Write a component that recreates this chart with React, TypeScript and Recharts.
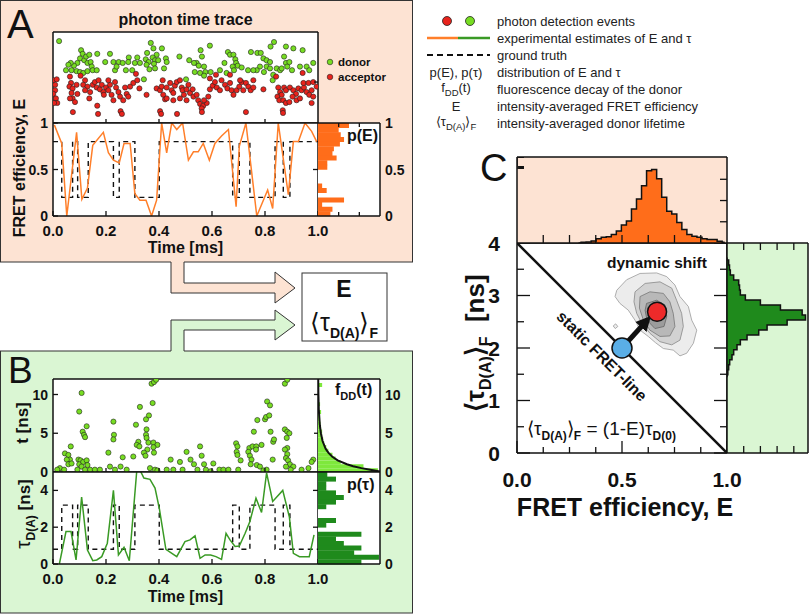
import React from 'react';
import { ComposedChart, XAxis, YAxis, Scatter, Line, Bar, Area, CartesianGrid } from 'recharts';

const FONT = "'Liberation Sans', Arial, Helvetica, sans-serif";
const INK = '#111111';
const PEACH = '#fde3d3';
const MINT = '#daf6d3';
const ORANGE = '#ff6d1a';
const ORANGE_LINE = '#ff7f2a';
const GREEN_DOT = '#77dd22';
const RED_DOT = '#e8231c';
const GREEN_LINE = '#3a9a25';
const DARK_GREEN = '#1f8a1c';
const LIGHT_GREEN = '#7ee83c';

// ---------------- Panel A: photon time trace [time ms, arbitrary spread 0-100]
const donorPhotons = [
  [0.023, 90], [0.106, 80], [0.112, 76], [0.102, 71], [0.118, 69], [0.125, 73], [0.137, 75], [0.13, 66], [0.142, 67], [0.146, 62],
  [0.092, 66], [0.079, 63], [0.067, 66], [0.058, 64], [0.049, 58], [0.07, 58], [0.089, 57], [0.102, 56], [0.114, 55], [0.13, 57],
  [0.167, 76], [0.15, 58], [0.165, 58], [0.197, 67], [0.215, 76], [0.228, 67], [0.248, 67], [0.234, 58], [0.24, 62], [0.263, 66],
  [0.286, 72], [0.284, 67], [0.275, 58], [0.299, 58], [0.309, 66], [0.318, 72], [0.328, 66], [0.355, 77], [0.35, 70], [0.361, 67],
  [0.369, 88], [0.379, 82], [0.391, 75], [0.376, 72], [0.353, 64], [0.364, 59], [0.385, 69], [0.397, 69], [0.381, 65], [0.411, 82],
  [0.426, 71], [0.429, 67], [0.419, 60], [0.343, 48], [0.385, 60],
  [0.477, 73], [0.514, 69], [0.557, 80], [0.592, 85], [0.562, 73], [0.542, 66], [0.532, 66], [0.55, 63], [0.57, 62], [0.575, 56],
  [0.595, 56], [0.555, 55], [0.535, 56], [0.57, 52], [0.502, 48], [0.66, 78], [0.668, 75], [0.681, 75], [0.688, 70], [0.691, 66],
  [0.697, 63], [0.678, 62], [0.647, 66], [0.63, 58], [0.655, 55], [0.683, 58], [0.712, 61], [0.736, 58],
  [0.747, 78], [0.771, 77], [0.784, 77], [0.794, 71], [0.806, 69], [0.819, 67], [0.834, 89], [0.821, 84], [0.781, 62], [0.769, 58],
  [0.756, 58], [0.806, 62], [0.819, 60], [0.844, 60], [0.796, 56], [0.831, 53], [0.829, 47], [0.857, 58], [0.879, 84], [0.907, 82],
  [0.942, 80], [0.872, 73], [0.879, 66], [0.884, 62], [0.902, 58], [0.892, 67], [0.932, 62], [0.957, 62], [0.982, 66], [0.967, 58],
  [0.863, 60],
];
const acceptorPhotons = [
  [0.001, 47], [0.014, 48], [0.008, 42], [0.008, 36], [0.001, 32], [0.011, 27], [0.016, 22], [0.004, 22], [0.064, 51], [0.068, 44],
  [0.062, 40], [0.074, 38], [0.07, 33], [0.074, 27], [0.083, 23], [0.064, 27], [0.092, 32], [0.089, 42], [0.104, 52], [0.121, 47],
  [0.114, 42], [0.13, 40], [0.121, 36], [0.14, 34], [0.137, 27], [0.15, 42], [0.158, 45], [0.165, 39], [0.172, 47], [0.177, 37],
  [0.184, 42], [0.19, 34], [0.2, 39], [0.192, 31], [0.209, 36], [0.215, 42], [0.209, 47], [0.221, 31], [0.228, 25], [0.238, 39],
  [0.234, 45], [0.247, 34], [0.253, 29], [0.265, 25], [0.272, 39], [0.278, 32], [0.291, 40], [0.284, 29], [0.303, 44], [0.318, 47],
  [0.326, 38], [0.255, 13], [0.167, 19], [0.353, 31], [0.313, 54],
  [0.391, 38], [0.404, 36], [0.41, 40], [0.416, 31], [0.423, 26], [0.429, 39], [0.442, 44], [0.448, 36], [0.454, 33], [0.46, 41],
  [0.467, 45], [0.479, 47], [0.486, 39], [0.489, 36], [0.494, 31], [0.504, 37], [0.511, 42], [0.517, 33], [0.527, 37], [0.53, 29],
  [0.542, 31], [0.548, 25], [0.555, 21], [0.567, 19], [0.58, 22], [0.586, 29], [0.592, 37], [0.603, 41], [0.611, 45], [0.618, 39],
  [0.63, 36], [0.636, 47], [0.649, 42], [0.658, 38], [0.668, 44], [0.674, 36], [0.681, 31], [0.693, 36], [0.703, 40], [0.712, 45],
  [0.718, 36], [0.728, 44], [0.737, 40], [0.746, 36], [0.756, 39], [0.794, 37], [0.404, 13], [0.561, 16], [0.57, 25], [0.504, 25],
  [0.479, 27], [0.454, 25], [0.429, 27], [0.414, 47], [0.592, 49], [0.615, 53], [0.668, 53], [0.706, 47], [0.756, 47],
  [0.842, 51], [0.85, 39], [0.857, 34], [0.847, 29], [0.854, 25], [0.863, 31], [0.872, 39], [0.879, 36], [0.869, 25], [0.879, 22],
  [0.892, 23], [0.867, 14], [0.894, 39], [0.907, 36], [0.917, 32], [0.926, 38], [0.938, 36], [0.947, 39], [0.957, 34], [0.967, 31],
  [0.976, 36], [0.982, 29], [0.976, 22], [0.945, 44], [0.964, 44], [0.995, 40], [0.919, 25], [0.932, 27], [0.904, 29], [0.942, 55],
  [0.982, 45],
  [0.075, 12], [0.17, 10], [0.26, 10], [0.408, 10], [0.468, 10], [0.562, 12], [0.728, 12], [0.868, 11],
];

// FRET efficiency estimate [time ms, E]
const fretTrace = [
  [0.005, 0.98], [0.033, 0.78], [0.052, 0.0], [0.089, 0.9], [0.109, 0.18], [0.13, 0.3], [0.15, 0.76], [0.19, 0.9], [0.209, 0.68],
  [0.228, 0.6], [0.25, 0.57], [0.268, 0.78], [0.291, 0.78], [0.309, 0.24], [0.328, 0.17], [0.351, 0.17], [0.372, 0.0], [0.391, 0.17],
  [0.41, 1.0], [0.429, 0.68], [0.448, 1.0], [0.467, 0.93], [0.489, 1.0], [0.511, 0.6], [0.53, 0.69], [0.548, 0.69], [0.567, 0.78],
  [0.59, 0.6], [0.611, 0.78], [0.636, 0.86], [0.662, 0.93], [0.691, 0.1], [0.703, 0.75], [0.728, 1.0], [0.769, 0.0], [0.81, 0.28],
  [0.829, 0.08], [0.85, 1.0], [0.888, 0.23], [0.907, 0.8], [0.926, 0.8], [0.951, 1.0], [0.976, 0.91], [0.995, 0.8],
];
// donor lifetime estimate [time ms, tau ns]
const lifetimeTrace = [
  [0.024, 0], [0.049, 1.76], [0.068, 1.76], [0.087, 0.22], [0.108, 3.64], [0.13, 0.76], [0.15, 0.18], [0.165, 0.22], [0.184, 0.4],
  [0.205, 1.13], [0.228, 4.0], [0.247, 0.49], [0.268, 0.91], [0.288, 0.18], [0.318, 5.4], [0.343, 4.67], [0.366, 4.6], [0.385, 4.13],
  [0.401, 3.04], [0.426, 0.8], [0.467, 0.4], [0.498, 1.22], [0.517, 1.31], [0.536, 1.53], [0.555, 0.31], [0.574, 0.49], [0.595, 0.49],
  [0.615, 0.4], [0.636, 0.25], [0.653, 1.67], [0.668, 1.31], [0.687, 0.95], [0.703, 0.98], [0.725, 1.67], [0.743, 2.31], [0.766, 3.58],
  [0.787, 2.8], [0.806, 4.95], [0.829, 3.4], [0.867, 4.0], [0.892, 2.55], [0.907, 0.58], [0.93, 0.4], [0.967, 0.4], [0.985, 1.58],
];
// ground truth two-state trajectory
const truthSwitchTimes = [0, 0.033, 0.074, 0.093, 0.133, 0.228, 0.25, 0.309, 0.401, 0.678, 0.703, 0.743, 0.838, 0.869, 0.894, 1.0];
const truthStates = ['high', 'low', 'high', 'low', 'high', 'low', 'high', 'low', 'high', 'low', 'high', 'low', 'high', 'low', 'high'];
const truthE: Record<string, number> = { high: 0.8, low: 0.2 };
const truthTau: Record<string, number> = { high: 0.8, low: 3.2 };

// p(E) histogram
const pEBinCenters = [0.025, 0.075, 0.125, 0.175, 0.225, 0.275, 0.325, 0.375, 0.425, 0.475, 0.525, 0.575, 0.625, 0.675, 0.725, 0.775, 0.825, 0.875, 0.925, 0.975];
const pECounts = [0.6, 0.7, 0.2, 1.26, 0, 0.42, 0.2, 0, 0, 0, 0.45, 0.45, 0.9, 0.7, 0.77, 1.06, 1.26, 1.1, 1.0, 1.5];

// Panel B: donor photon delay times [time ms, t ns]
const delayPhotons = [
  [0.108, 10.2], [0.099, 7.8], [0.127, 5.9], [0.112, 5.2], [0.117, 4.8], [0.121, 4.5], [0.067, 3.3], [0.228, 6.5], [0.23, 4.8], [0.228, 4.2],
  [0.328, 8.4], [0.313, 6.1], [0.322, 3.9], [0.316, 3.5], [0.326, 3.3], [0.351, 6.8], [0.362, 7.3], [0.353, 5.5], [0.351, 4.8], [0.353, 4.4],
  [0.36, 3.8], [0.379, 3.8], [0.394, 3.5], [0.376, 8.9], [0.372, 11.4], [0.381, 11.6], [0.389, 11.9], [0.356, 2.9], [0.379, 3.2], [0.555, 3.3],
  [0.691, 3.7], [0.696, 3.3], [0.741, 3.1], [0.753, 3.3], [0.758, 5.2], [0.771, 6.7], [0.767, 3.3], [0.787, 3.5], [0.8, 6.8], [0.804, 7.1],
  [0.816, 7.3], [0.808, 9.1], [0.819, 8.6], [0.821, 5.2], [0.831, 3.9], [0.834, 4.2], [0.875, 5.5], [0.884, 5.2], [0.892, 5.0], [0.882, 4.4],
  [0.875, 11.4], [0.884, 11.9], [0.884, 3.1],
  [0.045, 2.4], [0.058, 2.2], [0.064, 1.6], [0.052, 1.6], [0.058, 1.0], [0.07, 1.1], [0.026, 0.5], [0.016, 0.3], [0.042, 0.3], [0.096, 1.6],
  [0.104, 1.5], [0.099, 1.0], [0.114, 1.3], [0.127, 1.5], [0.108, 0.7], [0.13, 0.9], [0.121, 0.3], [0.092, 0.3], [0.14, 0.3], [0.158, 0.3],
  [0.177, 0.3], [0.209, 2.5], [0.215, 0.7], [0.234, 0.3], [0.255, 0.7], [0.263, 1.9], [0.278, 0.3], [0.303, 2.0], [0.343, 2.5], [0.349, 2.1],
  [0.381, 2.5], [0.366, 0.5], [0.385, 0.3], [0.394, 0.2], [0.429, 0.3], [0.444, 1.6], [0.454, 0.3], [0.479, 1.3], [0.489, 0.3], [0.504, 2.6],
  [0.519, 1.6], [0.532, 1.0], [0.545, 0.3], [0.561, 2.1], [0.57, 1.0], [0.577, 0.3], [0.595, 0.1], [0.605, 1.1], [0.628, 0.3], [0.643, 0.3],
  [0.662, 0.3], [0.693, 2.6], [0.696, 2.2], [0.699, 0.3], [0.708, 1.5], [0.737, 2.6], [0.743, 2.1], [0.749, 1.6], [0.746, 1.0], [0.766, 2.9],
  [0.769, 0.9], [0.781, 0.7], [0.794, 0.2], [0.806, 0.3], [0.829, 1.6], [0.875, 2.9], [0.884, 2.3], [0.879, 1.8], [0.887, 1.5], [0.894, 1.0],
  [0.879, 0.7], [0.907, 0.7], [0.897, 0.3], [0.938, 0.3], [0.964, 0.5], [0.982, 1.6], [0.976, 1.3],
];
// fDD(t) histogram and decay
const fddBinCenters = [0.25, 0.75, 1.25, 1.75, 2.25, 2.75, 3.25, 3.75, 4.25, 4.75, 5.25, 5.75, 6.25, 6.75, 7.25, 7.75, 8.25, 8.75, 9.25, 9.75, 10.25, 10.75, 11.25, 11.75];
const fddCounts = [2.9, 2.2, 1.1, 0.85, 0.7, 0.5, 0.4, 0.3, 0.25, 0.2, 0.2, 0.15, 0.12, 0.1, 0.1, 0.15, 0.05, 0.1, 0, 0.05, 0, 0.05, 0.2, 0.05];
const fddDecay = [
  [0.05, 3.0], [0.25, 2.6], [0.5, 2.1], [0.75, 1.7], [1, 1.4], [1.5, 0.95], [2, 0.68], [2.5, 0.5], [3, 0.37], [4, 0.22], [5, 0.14],
  [6, 0.09], [8, 0.04], [10, 0.02], [12, 0.01],
];
// p(tau) histogram
const pTauBinCenters = [0.125, 0.375, 0.625, 0.875, 1.125, 1.375, 1.625, 1.875, 2.125, 2.375, 2.625, 2.875, 3.125, 3.375, 3.625, 3.875, 4.125, 4.375, 4.625, 4.875];
const pTauCounts = [2.1, 2.95, 1.75, 2.1, 1.25, 0.87, 2.1, 0, 0.4, 0.87, 0, 0, 0.4, 0.87, 1.25, 0.87, 0.4, 0.4, 0.87, 0.45];

// Panel C: marginal histograms
const eHistCenters = [0.293, 0.317, 0.341, 0.365, 0.389, 0.413, 0.437, 0.461, 0.485, 0.509, 0.533, 0.557, 0.581, 0.605, 0.629, 0.653, 0.677, 0.701, 0.725, 0.749, 0.773, 0.797, 0.821, 0.845, 0.869, 0.893, 0.917, 0.941, 0.965, 0.989];
const eHistCounts = [0, 0.03, 0.05, 0.1, 0.2, 0.27, 0.3, 0.4, 0.56, 0.85, 1.04, 1.6, 2.07, 2.7, 3.4, 3.46, 3.03, 2.15, 1.5, 1.36, 0.96, 0.64, 0.4, 0.32, 0.27, 0.2, 0.16, 0.16, 0.08, 0.04];
const tauHistCenters = [1.4425, 1.5375, 1.6325, 1.7275, 1.8225, 1.9175, 2.0125, 2.1075, 2.2025, 2.2975, 2.3925, 2.4875, 2.5825, 2.6775, 2.7725, 2.8675, 2.9625, 3.0575, 3.1525, 3.2475, 3.3425, 3.4375, 3.5325, 3.6275, 3.7225];
const tauHistCounts = [0, 0.05, 0.1, 0.16, 0.3, 0.4, 0.6, 0.8, 1.2, 1.9, 2.4, 3.6, 4.7, 4.5, 3.2, 2.0, 1.1, 0.8, 0.75, 0.7, 0.4, 0.2, 0.15, 0.1, 0];

// Panel C: 2D distribution contours [E, tau]
const contourOuter = [[0.475, 3.1], [0.522, 3.3], [0.586, 3.42], [0.665, 3.43], [0.713, 3.36], [0.752, 3.2], [0.776, 2.98], [0.816, 2.79], [0.832, 2.53], [0.856, 2.34], [0.84, 2.09], [0.808, 1.9], [0.776, 1.85], [0.744, 1.96], [0.697, 1.99], [0.66, 2.1], [0.625, 2.22], [0.586, 2.34], [0.562, 2.53], [0.53, 2.72], [0.49, 2.85], [0.467, 2.98]];
const contourMid = [[0.562, 3.07], [0.61, 3.23], [0.681, 3.26], [0.737, 3.14], [0.76, 2.91], [0.784, 2.66], [0.792, 2.41], [0.776, 2.15], [0.737, 2.06], [0.681, 2.12], [0.633, 2.28], [0.594, 2.47], [0.57, 2.66], [0.557, 2.88]];
const contourInner = [[0.586, 2.98], [0.633, 3.07], [0.697, 3.04], [0.728, 2.88], [0.744, 2.66], [0.752, 2.41], [0.728, 2.23], [0.681, 2.22], [0.633, 2.34], [0.602, 2.53], [0.583, 2.76]];
const contourCore = [[0.617, 2.85], [0.665, 2.91], [0.705, 2.82], [0.713, 2.6], [0.7, 2.41], [0.657, 2.37], [0.619, 2.53], [0.61, 2.72]];
const contourIsland = [[0.458, 2.42], [0.47, 2.46], [0.48, 2.41], [0.468, 2.37]];
const contourStyles = [
  { pts: contourOuter, fill: '#ececec', stroke: '#9a9a9a' },
  { pts: contourIsland, fill: '#ececec', stroke: '#9a9a9a' },
  { pts: contourMid, fill: '#d2d2d2', stroke: '#888888' },
  { pts: contourInner, fill: '#b8b8b8', stroke: '#777777' },
  { pts: contourCore, fill: '#9c9c9c', stroke: '#666666' },
];
const staticFretLine = [[0, 4], [1, 0]];
const staticPoint = [[0.5, 2.0]];
const dynamicPoint = [[0.667, 2.69]];
const shiftArrow = [[0.5, 2.0], [0.622, 2.54]];

// ticks
const timeTicks = [0, 0.2, 0.4, 0.6, 0.8, 1];
const innerTimeTicks = [0.2, 0.4, 0.6, 0.8];
const eTicksA = [0, 0.5, 1];
const delayTicks = [0, 5, 10];
const tauTicksB = [0, 2, 4];
const histTicks = [1, 2];
const eTicksC = [0, 0.125, 0.25, 0.375, 0.5, 0.625, 0.75, 0.875, 1];
const eInnerTicksC = [0.125, 0.25, 0.375, 0.5, 0.625, 0.75, 0.875];
const tauTicksC = [0, 0.5, 1, 1.5, 2, 2.5, 3, 3.5, 4];
const countTicksTop = [1, 2, 3];
const countTicksRight = [1, 2, 3, 4];

// ---------------- helpers
const xy = (arr: number[][]) => arr.map(([x, y]) => ({ x, y }));
const closed = (arr: number[][]) => xy([...arr, arr[0]]);
const truthPoints = (levels: Record<string, number>) =>
  truthStates.flatMap((s, i) => [
    { x: truthSwitchTimes[i], y: levels[s] },
    { x: truthSwitchTimes[i + 1], y: levels[s] },
  ]);
const pEData = pEBinCenters.map((e, i) => ({ e, v: pECounts[i] })).reverse();
const fddData = fddBinCenters.map((t, i) => ({ t, v: fddCounts[i] })).reverse();
const fddCurve = fddDecay.map(([t, v]) => ({ t, v }));
const pTauData = pTauBinCenters.map((t, i) => ({ t, v: pTauCounts[i] })).reverse();
const eHistData = eHistCenters.map((e, i) => ({ e, h: eHistCounts[i] }));
const tauHistData = tauHistCenters.map((tau, i) => ({ tau, h: tauHistCounts[i] }));

// vertical step curve (transpose of d3 curveStep)
function stepY(context: any) {
  let line = NaN;
  let pt = 0;
  let px = NaN;
  let py = NaN;
  return {
    areaStart() { line = 0; },
    areaEnd() { line = NaN; },
    lineStart() { px = NaN; py = NaN; pt = 0; },
    lineEnd() {
      if (pt === 2) context.lineTo(px, py);
      if (line || (line !== 0 && pt === 1)) context.closePath();
      if (line >= 0) line = 1 - line;
    },
    point(x: number, y: number) {
      x = +x; y = +y;
      if (pt === 0) {
        pt = 1;
        if (line) context.lineTo(x, y); else context.moveTo(x, y);
      } else {
        pt = 2;
        const ym = (py + y) / 2;
        context.lineTo(px, ym);
        context.lineTo(x, ym);
      }
      px = x; py = y;
    },
  };
}

type Side = 'bottom' | 'top' | 'left' | 'right';
function mkTick(side: Side, len: number, o: any = {}) {
  return (p: any) => {
    const x = Number(p.x);
    const y = Number(p.y);
    const v = Number(p.payload && p.payload.value);
    const major = o.isMajor ? o.isMajor(v) : true;
    const L = major ? len : (o.minor ?? len / 2);
    const fs = o.fs ?? 15;
    const gap = o.gap ?? 5;
    const s = o.fmt ? o.fmt(v) : String(v);
    let x2 = x, y2 = y, tx = x, ty = y;
    let anchor = 'middle';
    if (side === 'bottom') { y2 = y - L; ty = y + gap + fs * 0.72; }
    if (side === 'top') { y2 = y + L; ty = y - gap; }
    if (side === 'left') { x2 = x + L; tx = x - gap; ty = y + fs * 0.36; anchor = 'end'; }
    if (side === 'right') { x2 = x - L; tx = x + gap; ty = y + fs * 0.36; anchor = 'start'; }
    return (
      <g>
        {L > 0 && <line x1={x} y1={y} x2={x2} y2={y2} stroke={INK} strokeWidth={1.3} />}
        {o.label && major && (
          <text x={tx} y={ty} textAnchor={anchor as any} fontFamily={FONT} fontWeight="bold" fontSize={fs} fill={INK}>{s}</text>
        )}
      </g>
    );
  };
}

const frame = (domain: number[]) => ({
  type: 'number' as const,
  domain,
  allowDataOverflow: true,
  interval: 0 as const,
  tickSize: 0,
  tickMargin: 0,
  tickLine: false,
  axisLine: { stroke: INK, strokeWidth: 1.5 },
});

const dot = (fill: string, r: number, stroke = '#222', sw = 0.6) => (p: any) => (
  <circle cx={p.cx} cy={p.cy} r={r} fill={fill} stroke={stroke} strokeWidth={sw} />
);
const noShape = () => <g />;

function Plot({ x, y, w, h, l = 0, r = 0, t = 0, b = 0, layout = 'horizontal', data, children }: any) {
  return (
    <div style={{ position: 'absolute', left: x - l, top: y - t }}>
      <ComposedChart
        width={w + l + r}
        height={h + t + b}
        layout={layout}
        data={data}
        margin={{ top: 0, right: 0, bottom: 0, left: 0 }}
        barCategoryGap={0}
        barGap={0}
      >
        {children}
      </ComposedChart>
    </div>
  );
}

function Backdrop() {
  return (
    <svg width={812} height={614} style={{ position: 'absolute', left: 0, top: 0 }}>
      <defs>
        <marker id="shiftHead" viewBox="0 0 10 10" refX="6.7" refY="5" markerWidth="3" markerHeight="3.2" orient="auto">
          <path d="M0,0 L10,5 L0,10 z" fill={INK} />
        </marker>
      </defs>
      <rect x={0.5} y={0.5} width={412} height={261.5} fill={PEACH} stroke="#333" strokeWidth={1} />
      <rect x={0.5} y={351} width={412} height={262} fill={MINT} stroke="#333" strokeWidth={1} />
      <path d="M171,261 L171,293 L275,293 L275,303 L295,288 L275,272 L275,283 L184,283 L184,261 Z" fill={PEACH} />
      <path d="M171,262 L171,293 L275,293 L275,303 L295,288 L275,272 L275,283 L184,283 L184,262" fill="none" stroke="#333" strokeWidth={1} />
      <path d="M171,352 L171,320 L275,320 L275,310 L295,325 L275,340 L275,330 L184,330 L184,352 Z" fill={MINT} />
      <path d="M171,351 L171,320 L275,320 L275,310 L295,325 L275,340 L275,330 L184,330 L184,351" fill="none" stroke="#333" strokeWidth={1} />
      <rect x={302} y={273} width={85} height={68} fill="#fff" stroke="#333" strokeWidth={1} />
    </svg>
  );
}

function Annotations() {
  const rows = [21, 38, 55, 72, 89, 106, 123];
  const desc = [
    'photon detection events',
    'experimental estimates of E and \u03c4',
    'ground truth',
    'distribution of E and \u03c4',
    'fluorescence decay of the donor',
    'intensity-averaged FRET efficiency',
    'intensity-averaged donor lifetime',
  ];
  return (
    <svg width={812} height={614} style={{ position: 'absolute', left: 0, top: 0, pointerEvents: 'none' }} fontFamily={FONT} fill={INK}>
      {/* tidy the top-left corner of the E-histogram box */}
      <rect x={518} y={158} width={8} height={8} fill={PEACH} />

      {/* panel letters */}
      <text x={7} y={38} fontSize={40}>A</text>
      <text x={8} y={383} fontSize={37}>B</text>
      <text x={480} y={181} fontSize={38}>C</text>

      {/* Panel A */}
      <text x={185.5} y={25} fontSize={16} fontWeight="bold" textAnchor="middle">photon time trace</text>
      <circle cx={330} cy={62} r={2.8} fill={GREEN_DOT} stroke="#222" strokeWidth={0.6} />
      <text x={338} y={66} fontSize={11.5} fontWeight="bold">donor</text>
      <circle cx={330} cy={77} r={2.8} fill={RED_DOT} stroke="#222" strokeWidth={0.6} />
      <text x={338} y={81} fontSize={11.5} fontWeight="bold">acceptor</text>
      <text transform="translate(25,168) rotate(-90)" fontSize={16} fontWeight="bold" textAnchor="middle">FRET efficiency, E</text>
      <text x={185.5} y={253} fontSize={16} fontWeight="bold" textAnchor="middle">Time [ms]</text>
      <text x={347} y={141} fontSize={16} fontWeight="bold">p(E)</text>

      {/* box */}
      <text x={344} y={297} fontSize={23} fontWeight="bold" textAnchor="middle">E</text>
      <text x={344} y={331} fontSize={25} textAnchor="middle">
        {'\u27e8\u03c4'}<tspan fontSize={14} fontWeight="bold" dy={7}>D(A)</tspan><tspan dy={-7}>{'\u27e9'}</tspan><tspan fontSize={14} fontWeight="bold" dy={7}>F</tspan>
      </text>

      {/* Panel B */}
      <text transform="translate(28,423) rotate(-90)" fontSize={17} fontWeight="bold" textAnchor="middle">t [ns]</text>
      <text transform="translate(30,514) rotate(-90)" fontSize={17} fontWeight="bold" textAnchor="middle">
        <tspan fontSize={21} fontWeight="normal">{'\u03c4'}</tspan><tspan fontSize={12} dy={5}>D(A)</tspan><tspan dy={-5}>{' [ns]'}</tspan>
      </text>
      <text x={185.5} y={602} fontSize={16} fontWeight="bold" textAnchor="middle">Time [ms]</text>
      <text x={335} y={395} fontSize={16} fontWeight="bold">
        f<tspan fontSize={11} dy={5}>DD</tspan><tspan dy={-5}>(t)</tspan>
      </text>
      <text x={347} y={490} fontSize={16} fontWeight="bold">p({'\u03c4'})</text>

      {/* legend */}
      <circle cx={447} cy={rows[0]} r={4.5} fill={RED_DOT} stroke="#222" strokeWidth={0.8} />
      <circle cx={470} cy={rows[0]} r={4.5} fill={GREEN_DOT} stroke="#222" strokeWidth={0.8} />
      <line x1={427} y1={rows[1]} x2={458} y2={rows[1]} stroke={ORANGE_LINE} strokeWidth={2.5} />
      <line x1={458} y1={rows[1]} x2={490} y2={rows[1]} stroke={GREEN_LINE} strokeWidth={2.5} />
      <line x1={427} y1={rows[2]} x2={490} y2={rows[2]} stroke={INK} strokeWidth={2} strokeDasharray="6 4" />
      <g fontSize={13} fill="#222">
        <text x={456} y={rows[3] + 4.5} textAnchor="middle">p(E), p({'\u03c4'})</text>
        <text x={456} y={rows[4] + 3} textAnchor="middle">f<tspan fontSize={9.5} dy={4}>DD</tspan><tspan dy={-4}>(t)</tspan></text>
        <text x={456} y={rows[5] + 4.5} textAnchor="middle">E</text>
        <text x={456} y={rows[6] + 3} textAnchor="middle">{'\u27e8\u03c4'}<tspan fontSize={9.5} dy={4}>D(A)</tspan><tspan dy={-4}>{'\u27e9'}</tspan><tspan fontSize={9.5} dy={4}>F</tspan></text>
        {desc.map((d, i) => (
          <text key={d} x={497} y={rows[i] + 4.5}>{d}</text>
        ))}
      </g>

      {/* Panel C */}
      <text x={657} y={268} fontSize={15.5} fontWeight="bold" textAnchor="middle">dynamic shift</text>
      <text transform="translate(601,357) rotate(45)" fontSize={16} fontWeight="bold" textAnchor="middle" dominantBaseline="middle">static FRET-line</text>
      <text x={527} y={435} fontSize={19}>
        {'\u27e8\u03c4'}<tspan fontSize={12} fontWeight="bold" dy={5}>D(A)</tspan><tspan dy={-5}>{'\u27e9'}</tspan><tspan fontSize={12} fontWeight="bold" dy={5}>F</tspan><tspan dy={-5}>{' = (1-E)\u03c4'}</tspan><tspan fontSize={12} fontWeight="bold" dy={5}>D(0)</tspan>
      </text>
      <text x={625} y={516} fontSize={25} fontWeight="bold" textAnchor="middle">FRET efficiency, E</text>
      <text transform="translate(484,343) rotate(-90)" fontSize={26} fontWeight="bold" textAnchor="middle">
        {'\u27e8\u03c4'}<tspan fontSize={16} dy={7}>D(A)</tspan><tspan dy={-7}>{'\u27e9'}</tspan><tspan fontSize={16} dy={7}>F</tspan><tspan dy={-7}>{'\u00a0\u00a0[ns]'}</tspan>
      </text>
    </svg>
  );
}

export default function App() {
  const f1 = (v: number) => v.toFixed(1);
  return (
    <div style={{ position: 'absolute', left: 0, top: 0, width: 812, height: 614, background: '#fff', fontFamily: FONT, overflow: 'hidden' }}>
      <style>{'.recharts-surface{overflow:visible}'}</style>
      <Backdrop />

      {/* A: photon trace */}
      <Plot x={53} y={32} w={265} h={91}>
        <CartesianGrid fill="#fff" horizontal={false} vertical={false} />
        <XAxis xAxisId={0} dataKey="x" {...frame([0, 1])} orientation="bottom" mirror ticks={innerTimeTicks} tick={mkTick('bottom', 4)} />
        <XAxis xAxisId="t" {...frame([0, 1])} orientation="top" mirror ticks={innerTimeTicks} tick={mkTick('top', 5)} />
        <YAxis yAxisId={0} dataKey="y" {...frame([0, 100])} mirror ticks={[0, 100]} tick={mkTick('left', 0)} />
        <YAxis yAxisId="r" {...frame([0, 100])} orientation="right" mirror ticks={[45]} tick={mkTick('right', 4)} />
        <Scatter data={xy(donorPhotons)} shape={dot(GREEN_DOT, 2.6)} isAnimationActive={false} />
        <Scatter data={xy(acceptorPhotons)} shape={dot(RED_DOT, 2.6)} isAnimationActive={false} />
      </Plot>

      {/* A: FRET efficiency trace */}
      <Plot x={53} y={123} w={265} h={93} l={45} b={30}>
        <CartesianGrid fill="#fff" horizontal={false} vertical={false} />
        <XAxis xAxisId={0} dataKey="x" {...frame([0, 1])} height={30} ticks={timeTicks} tick={mkTick('bottom', 5, { label: true, fmt: f1, gap: 9 })} />
        <XAxis xAxisId="t" {...frame([0, 1])} orientation="top" mirror ticks={innerTimeTicks} tick={mkTick('top', 4)} />
        <YAxis yAxisId={0} dataKey="y" {...frame([0, 1])} width={45} ticks={eTicksA} tick={mkTick('left', 5, { label: true, gap: 5, fs: 14 })} />
        <YAxis yAxisId="r" {...frame([0, 1])} orientation="right" mirror ticks={[0.5]} tick={mkTick('right', 5)} />
        <Line data={truthPoints(truthE)} dataKey="y" stroke={INK} strokeWidth={1.4} strokeDasharray="5 4" dot={false} activeDot={false} isAnimationActive={false} />
        <Line data={xy(fretTrace)} dataKey="y" stroke={ORANGE_LINE} strokeWidth={1.5} dot={false} activeDot={false} isAnimationActive={false} />
      </Plot>

      {/* A: p(E) */}
      <Plot x={318} y={123} w={62} h={93} r={30} layout="vertical" data={pEData}>
        <CartesianGrid fill="#fff" horizontal={false} vertical={false} />
        <XAxis xAxisId={0} dataKey="v" {...frame([0, 3])} orientation="bottom" mirror ticks={histTicks} tick={mkTick('bottom', 4)} />
        <XAxis xAxisId="t" {...frame([0, 3])} orientation="top" mirror ticks={histTicks} tick={mkTick('top', 4)} />
        <YAxis yAxisId={0} type="category" dataKey="e" hide />
        <YAxis yAxisId="r" dataKey="e" reversed {...frame([0, 1])} orientation="right" width={30} ticks={eTicksA} tick={mkTick('right', 0, { label: true, gap: 5, fs: 14 })} />
        <Bar dataKey="v" fill={ORANGE} isAnimationActive={false} />
      </Plot>

      {/* B: photon delays */}
      <Plot x={53} y={379} w={265} h={93} l={45}>
        <CartesianGrid fill="#fff" horizontal={false} vertical={false} />
        <XAxis xAxisId={0} dataKey="x" {...frame([0, 1])} orientation="bottom" mirror ticks={innerTimeTicks} tick={mkTick('bottom', 4)} />
        <XAxis xAxisId="t" {...frame([0, 1])} orientation="top" mirror ticks={innerTimeTicks} tick={mkTick('top', 5)} />
        <YAxis yAxisId={0} dataKey="y" {...frame([0, 12])} width={45} ticks={delayTicks} tick={mkTick('left', 5, { label: true, gap: 5, fs: 14 })} />
        <YAxis yAxisId="r" {...frame([0, 12])} orientation="right" mirror ticks={[5, 10]} tick={mkTick('right', 4)} />
        <Scatter data={xy(delayPhotons)} shape={dot(GREEN_DOT, 2.6)} isAnimationActive={false} />
      </Plot>

      {/* B: lifetime trace */}
      <Plot x={53} y={472} w={265} h={92} l={45} b={30}>
        <CartesianGrid fill="#fff" horizontal={false} vertical={false} />
        <XAxis xAxisId={0} dataKey="x" {...frame([0, 1])} height={30} ticks={timeTicks} tick={mkTick('bottom', 5, { label: true, fmt: f1, gap: 9 })} />
        <XAxis xAxisId="t" {...frame([0, 1])} orientation="top" mirror ticks={innerTimeTicks} tick={mkTick('top', 4)} />
        <YAxis yAxisId={0} dataKey="y" {...frame([0, 5])} width={45} ticks={tauTicksB} tick={mkTick('left', 5, { label: true, gap: 5, fs: 14 })} />
        <YAxis yAxisId="r" {...frame([0, 5])} orientation="right" mirror ticks={[2, 4]} tick={mkTick('right', 5)} />
        <Line data={truthPoints(truthTau)} dataKey="y" stroke={INK} strokeWidth={1.4} strokeDasharray="5 4" dot={false} activeDot={false} isAnimationActive={false} />
        <Line data={xy(lifetimeTrace)} dataKey="y" stroke={GREEN_LINE} strokeWidth={1.5} dot={false} activeDot={false} isAnimationActive={false} />
      </Plot>

      {/* B: fDD(t) */}
      <Plot x={318} y={379} w={62} h={93} r={30} layout="vertical" data={fddData}>
        <CartesianGrid fill="#fff" horizontal={false} vertical={false} />
        <XAxis xAxisId={0} dataKey="v" {...frame([0, 3])} orientation="bottom" mirror ticks={histTicks} tick={mkTick('bottom', 0)} />
        <XAxis xAxisId="t" {...frame([0, 3])} orientation="top" mirror ticks={histTicks} tick={mkTick('top', 0)} />
        <YAxis yAxisId={0} type="category" dataKey="t" hide />
        <YAxis yAxisId="r" dataKey="t" reversed {...frame([0, 12])} orientation="right" width={30} ticks={delayTicks} tick={mkTick('right', 0, { label: true, gap: 5, fs: 14 })} />
        <Bar dataKey="v" fill={LIGHT_GREEN} isAnimationActive={false} />
        <Scatter yAxisId="r" data={fddCurve} line={{ stroke: INK, strokeWidth: 2, fill: 'none' }} shape={noShape} isAnimationActive={false} />
      </Plot>

      {/* B: p(tau) */}
      <Plot x={318} y={472} w={62} h={92} r={30} layout="vertical" data={pTauData}>
        <CartesianGrid fill="#fff" horizontal={false} vertical={false} />
        <XAxis xAxisId={0} dataKey="v" {...frame([0, 3])} orientation="bottom" mirror ticks={histTicks} tick={mkTick('bottom', 0)} />
        <XAxis xAxisId="t" {...frame([0, 3])} orientation="top" mirror ticks={histTicks} tick={mkTick('top', 0)} />
        <YAxis yAxisId={0} type="category" dataKey="t" hide />
        <YAxis yAxisId="r" dataKey="t" reversed {...frame([0, 5])} orientation="right" width={30} ticks={tauTicksB} tick={mkTick('right', 0, { label: true, gap: 5, fs: 14 })} />
        <Bar dataKey="v" fill={DARK_GREEN} isAnimationActive={false} />
      </Plot>

      {/* C: main */}
      <Plot x={517} y={243} w={210} h={210} l={40} b={45}>
        <XAxis xAxisId={0} dataKey="x" {...frame([0, 1])} height={45} ticks={eTicksC}
          tick={mkTick('bottom', 12, { minor: 6, isMajor: (v: number) => Math.abs(v * 2 - Math.round(v * 2)) < 1e-6, label: true, fmt: f1, fs: 21, gap: 19 })} />
        <XAxis xAxisId="t" {...frame([0, 1])} orientation="top" mirror ticks={[0.5]} tick={mkTick('top', 0)} />
        <YAxis yAxisId={0} dataKey="y" {...frame([0, 4])} width={40} ticks={tauTicksC}
          tick={mkTick('left', 13, { minor: 7, isMajor: (v: number) => Math.abs(v - Math.round(v)) < 1e-6, label: true, fs: 21, gap: 17 })} />
        <YAxis yAxisId="r" {...frame([0, 4])} orientation="right" mirror ticks={tauTicksC}
          tick={mkTick('right', 13, { minor: 7, isMajor: (v: number) => Math.abs(v - Math.round(v)) < 1e-6 })} />
        {contourStyles.map((c, i) => (
          <Scatter key={i} data={closed(c.pts)} line={{ stroke: c.stroke, strokeWidth: 0.8, fill: c.fill }} shape={noShape} isAnimationActive={false} />
        ))}
        <Scatter data={xy(staticFretLine)} line={{ stroke: INK, strokeWidth: 2.5 }} shape={noShape} isAnimationActive={false} />
        <Scatter data={xy(shiftArrow)} line={{ stroke: INK, strokeWidth: 5, markerEnd: 'url(#shiftHead)' }} shape={noShape} isAnimationActive={false} />
        <Scatter data={xy(staticPoint)} shape={dot('#5aaee6', 10, INK, 1.5)} isAnimationActive={false} />
        <Scatter data={xy(dynamicPoint)} shape={dot('#ee2a2a', 9.5, INK, 1.5)} isAnimationActive={false} />
      </Plot>

      {/* C: top histogram p(E) */}
      <Plot x={517} y={157} w={210} h={86} data={eHistData}>
        <CartesianGrid fill={PEACH} horizontal={false} vertical={false} />
        <XAxis xAxisId={0} dataKey="e" {...frame([0, 1])} orientation="bottom" mirror ticks={eInnerTicksC} tick={mkTick('bottom', 8)} />
        <XAxis xAxisId="t" {...frame([0, 1])} orientation="top" mirror ticks={eInnerTicksC} tick={mkTick('top', 12)} />
        <YAxis yAxisId={0} dataKey="h" {...frame([0, 4.05])} mirror ticks={[2]} tick={mkTick('left', 0)} />
        <YAxis yAxisId="r" {...frame([0, 4.05])} orientation="right" mirror ticks={countTicksTop} tick={mkTick('right', 7)} />
        <Area type="step" dataKey="h" fill={ORANGE} fillOpacity={1} stroke={INK} strokeWidth={1.5} dot={false} activeDot={false} isAnimationActive={false} />
      </Plot>

      {/* C: right histogram p(tau) */}
      <Plot x={727} y={243} w={81} h={210} layout="vertical" data={tauHistData}>
        <CartesianGrid fill={MINT} horizontal={false} vertical={false} />
        <XAxis xAxisId={0} dataKey="h" {...frame([0, 4.85])} orientation="bottom" mirror ticks={countTicksRight} tick={mkTick('bottom', 7)} />
        <XAxis xAxisId="t" {...frame([0, 4.85])} orientation="top" mirror ticks={countTicksRight} tick={mkTick('top', 7)} />
        <YAxis yAxisId={0} dataKey="tau" reversed {...frame([0, 4])} mirror ticks={[2]} tick={mkTick('left', 0)} />
        <YAxis yAxisId="r" dataKey="tau" reversed {...frame([0, 4])} orientation="right" mirror ticks={[2]} tick={mkTick('right', 0)} />
        <Area type={stepY as any} dataKey="h" fill={DARK_GREEN} fillOpacity={1} stroke={INK} strokeWidth={1.5} dot={false} activeDot={false} isAnimationActive={false} />
      </Plot>

      <Annotations />
    </div>
  );
}
